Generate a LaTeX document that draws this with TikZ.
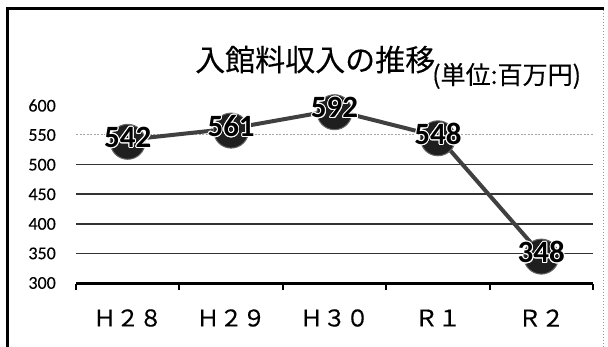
\documentclass[tikz,border=0pt]{standalone}
\usepackage{fontspec}
\setmainfont{Carlito}
\newfontfamily\cjk{Noto Sans CJK JP}
\usepackage{contour}
\contourlength{0.9pt}
\newcommand{\heavy}[2]{\special{pdf:code q 2 Tr 0 0 0 RG #1 w}#2\special{pdf:code Q}}
\begin{document}
\begin{tikzpicture}[x=1pt,y=-1pt,
  gridline/.style={line width=1.6pt, black!80},
  lightgrid/.style={line width=1pt, black!35, dash pattern=on 2pt off 1.5pt},
  axisline/.style={line width=3pt, black},
  tickline/.style={line width=2pt, black},
  dataline/.style={line width=4pt, black!75},
  marker/.style={circle, fill=black!88, draw=black!60, line width=1pt, minimum size=35pt, inner sep=0pt},
  vlabel/.style={font=\fontsize{31}{31}\selectfont\bfseries, inner sep=0pt},
  ylab/.style={font=\fontsize{18}{18}\selectfont, anchor=east, inner sep=0pt},
  catlab/.style={font=\cjk\fontsize{23}{23}\selectfont, inner sep=0pt},
  frameline/.style={line width=3pt, black}]
\useasboundingbox (0,0) rectangle (608,347);
\fill[white] (0,0) rectangle (608,347);
% frame
\draw[frameline] (7.5,347) -- (7.5,8.5) -- (604,8.5);
\draw[line width=1pt, black!40, dotted] (603,10) -- (603,347);
% title
\node[font=\cjk\fontsize{30}{30}\selectfont, inner sep=0pt, anchor=base west] (title) at (195,71) {\heavy{0.05}{入館料収入の推移}};
\node[font=\cjk\fontsize{25}{25}\selectfont, inner sep=0pt, anchor=base west] (unit) at (432,84) {\heavy{0.05}{(単位:百万円)}};
% grid
\draw[lightgrid] (76,135.0) -- (593,135.0);
\foreach \v/\y in {500/164.7,450/194.3,400/223.9,350/253.4}
  \draw[gridline] (76,\y) -- (593,\y);
\draw[axisline] (76,284) -- (593,284);
\foreach \x in {76,179.4,282.8,386.2,489.6,593}
  \draw[tickline] (\x,284) -- (\x,290);
% y labels
\foreach \v/\y in {600/105.5,550/135.0,500/164.7,450/194.3,400/223.9,350/253.4,300/283}
  \node[ylab] (y\v) at (56,\y) {\heavy{0.03}{\v}};
% categories
\node[catlab] (c1) at (127.7,318) {\heavy{0.07}{Ｈ２８}};
\node[catlab] (c2) at (231.1,318) {\heavy{0.07}{Ｈ２９}};
\node[catlab] (c3) at (334.5,318) {\heavy{0.07}{Ｈ３０}};
\node[catlab] (c4) at (437.9,318) {\heavy{0.07}{Ｒ１}};
\node[catlab] (c5) at (541.3,318) {\heavy{0.07}{Ｒ２}};
% data
\coordinate (p1) at (127.7,139.8);
\coordinate (p2) at (231.1,128.6);
\coordinate (p3) at (334.5,110.2);
\coordinate (p4) at (437.9,136.3);
\coordinate (p5) at (541.3,254.6);
\draw[dataline] (p1) -- (p2) -- (p3) -- (p4) -- (p5);
\foreach \i/\v in {1/542,2/561,3/592,4/548,5/348}{
  \node[marker] (m\i) at ([yshift=-2pt]p\i) {};
  \node[vlabel] (l\i) at ([yshift=2pt]p\i) {\contour{white}{\v}};
}
\end{tikzpicture}
\end{document}
